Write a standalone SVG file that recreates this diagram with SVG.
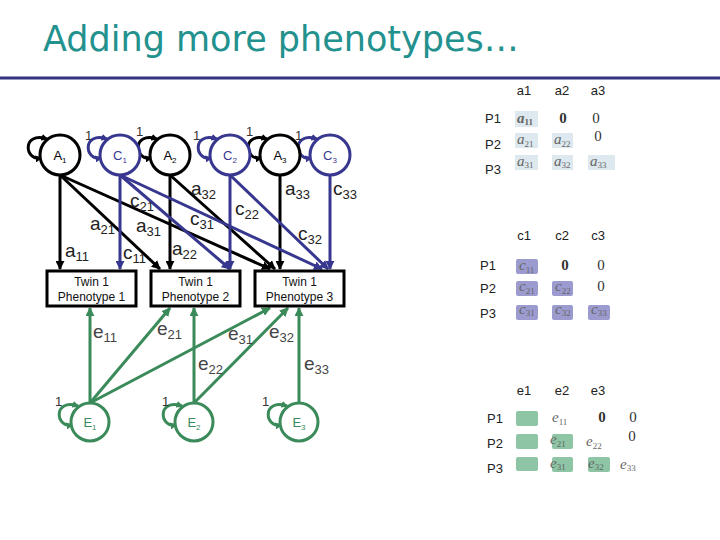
<svg xmlns="http://www.w3.org/2000/svg" width="720" height="540" viewBox="0 0 720 540">
<defs>
<style>
.title{font-family:"DejaVu Sans",Verdana,sans-serif;font-size:35px;fill:#23918d}
.k{stroke:#000;stroke-width:3;fill:none}
.b{stroke:#37378f;stroke-width:3;fill:none}
.g{stroke:#3a8a5a;stroke-width:3;fill:none}
.nk{stroke:#000;stroke-width:3;fill:#fff}
.nb{stroke:#37378f;stroke-width:3;fill:#fff}
.ng{stroke:#3a8a5a;stroke-width:3;fill:#fff}
.box{stroke:#000;stroke-width:3;fill:#fff}
.lbl{font-family:"Liberation Sans",Arial,sans-serif;font-size:19px;fill:#222}
.elbl{font-family:"Liberation Sans",Arial,sans-serif;font-size:19px;fill:#444}
.s{font-size:13px}
.one{font-family:"Liberation Sans",Arial,sans-serif;font-size:13px;fill:#333}
.nt{font-family:"Liberation Sans",Arial,sans-serif;font-size:13px;text-anchor:middle}
.ns{font-size:8px}
.bt{font-family:"Liberation Sans",Arial,sans-serif;font-size:12px;fill:#111;text-anchor:middle}
.mt{font-family:"Liberation Sans",Arial,sans-serif;font-size:13px;fill:#222}
.hd{font-family:"Liberation Sans",Arial,sans-serif;font-size:13px;fill:#222;text-anchor:middle}
.m{font-family:"Liberation Serif","Times New Roman",serif;font-style:italic;font-size:15px;fill:#666}
.ms{font-size:9px;font-style:normal}
.z{font-family:"Liberation Serif","Times New Roman",serif;font-size:15px;fill:#333;text-anchor:middle}
.ca{fill:#dde9ee}
.cc{fill:#9b9bd0}
.ce{fill:#8dc5a5}
</style>
<marker id="ak" viewBox="0 0 10 10" refX="9" refY="5" markerWidth="9" markerHeight="9" markerUnits="userSpaceOnUse" orient="auto-start-reverse"><path d="M0,0 L10,5 L0,10 z" fill="#000"/></marker>
<marker id="ab" viewBox="0 0 10 10" refX="9" refY="5" markerWidth="9" markerHeight="9" markerUnits="userSpaceOnUse" orient="auto-start-reverse"><path d="M0,0 L10,5 L0,10 z" fill="#37378f"/></marker>
<marker id="ag" viewBox="0 0 10 10" refX="9" refY="5" markerWidth="9" markerHeight="9" markerUnits="userSpaceOnUse" orient="auto-start-reverse"><path d="M0,0 L10,5 L0,10 z" fill="#3a8a5a"/></marker>
<marker id="lk" viewBox="0 0 10 10" refX="8" refY="5" markerWidth="7" markerHeight="7" markerUnits="userSpaceOnUse" orient="auto-start-reverse"><path d="M0,0 L10,5 L0,10 z" fill="#000"/></marker>
<marker id="lb" viewBox="0 0 10 10" refX="8" refY="5" markerWidth="7" markerHeight="7" markerUnits="userSpaceOnUse" orient="auto-start-reverse"><path d="M0,0 L10,5 L0,10 z" fill="#37378f"/></marker>
<marker id="lg" viewBox="0 0 10 10" refX="8" refY="5" markerWidth="7" markerHeight="7" markerUnits="userSpaceOnUse" orient="auto-start-reverse"><path d="M0,0 L10,5 L0,10 z" fill="#3a8a5a"/></marker>
</defs>
<rect width="720" height="540" fill="#fff"/>
<text class="title" x="43" y="51">Adding more phenotypes…</text>
<line x1="0" y1="78" x2="720" y2="78" stroke="#333380" stroke-width="3"/>

<g id="connectors">
<g marker-end="url(#ak)">
<path class="k" d="M60,175 L60,269"/>
<path class="k" d="M60,175 L160,269"/>
<path class="k" d="M60,175 L270,269"/>
<path class="k" d="M170,175 L170,269"/>
<path class="k" d="M170,175 L275,269"/>
<path class="k" d="M280,175 L280,269"/>
</g>
<g marker-end="url(#ab)">
<path class="b" d="M120,175 L120,269"/>
<path class="b" d="M120,175 L230,269"/>
<path class="b" d="M120,175 L322,269"/>
<path class="b" d="M230,175 L230,269"/>
<path class="b" d="M230,175 L328,269"/>
<path class="b" d="M330,175 L330,269"/>
</g>
<g marker-end="url(#ag)">
<path class="g" d="M90,403 L90,308"/>
<path class="g" d="M90,403 L170,308"/>
<path class="g" d="M90,403 L270,308"/>
<path class="g" d="M194,403 L194,308"/>
<path class="g" d="M194,403 L288,308"/>
<path class="g" d="M299,403 L299,308"/>
</g>
<g>
<path class="k" marker-start="url(#lk)" marker-end="url(#lk)" d="M41,158 C24,161 22,131 47,139"/>
<path class="b" marker-start="url(#lb)" marker-end="url(#lb)" d="M101,158 C84,161 82,131 107,139"/>
<path class="k" marker-start="url(#lk)" marker-end="url(#lk)" d="M151,158 C134,161 132,131 157,139"/>
<path class="b" marker-start="url(#lb)" marker-end="url(#lb)" d="M211,158 C194,161 192,131 217,139"/>
<path class="k" marker-start="url(#lk)" marker-end="url(#lk)" d="M261,158 C244,161 242,131 267,139"/>
<path class="b" marker-start="url(#lb)" marker-end="url(#lb)" d="M311,158 C294,161 292,131 317,139"/>
<path class="g" marker-start="url(#lg)" marker-end="url(#lg)" d="M72,425 C55,428 53,398 78,406"/>
<path class="g" marker-start="url(#lg)" marker-end="url(#lg)" d="M176,425 C159,428 157,398 182,406"/>
<path class="g" marker-start="url(#lg)" marker-end="url(#lg)" d="M281,425 C264,428 262,398 287,406"/>
</g>
<g>
<text class="lbl" x="65" y="257">a<tspan class="s" dy="4">11</tspan></text>
<text class="lbl" x="90" y="230">a<tspan class="s" dy="4">21</tspan></text>
<text class="lbl" x="136" y="232">a<tspan class="s" dy="4">31</tspan></text>
<text class="lbl" x="172" y="255">a<tspan class="s" dy="4">22</tspan></text>
<text class="lbl" x="191" y="195">a<tspan class="s" dy="4">32</tspan></text>
<text class="lbl" x="285" y="195">a<tspan class="s" dy="4">33</tspan></text>
<text class="lbl" x="123" y="259">c<tspan class="s" dy="4">11</tspan></text>
<text class="lbl" x="130" y="207">c<tspan class="s" dy="4">21</tspan></text>
<text class="lbl" x="190" y="225">c<tspan class="s" dy="4">31</tspan></text>
<text class="lbl" x="235" y="215">c<tspan class="s" dy="4">22</tspan></text>
<text class="lbl" x="298" y="240">c<tspan class="s" dy="4">32</tspan></text>
<text class="lbl" x="333" y="195">c<tspan class="s" dy="4">33</tspan></text>
<text class="elbl" x="93" y="338">e<tspan class="s" dy="4">11</tspan></text>
<text class="elbl" x="157" y="335">e<tspan class="s" dy="4">21</tspan></text>
<text class="elbl" x="228" y="340">e<tspan class="s" dy="4">31</tspan></text>
<text class="elbl" x="269" y="338">e<tspan class="s" dy="4">32</tspan></text>
<text class="elbl" x="198" y="370">e<tspan class="s" dy="4">22</tspan></text>
<text class="elbl" x="304" y="370">e<tspan class="s" dy="4">33</tspan></text>
<text class="one" x="85" y="140">1</text>
<text class="one" x="136" y="136">1</text>
<text class="one" x="193" y="140">1</text>
<text class="one" x="246" y="136">1</text>
<text class="one" x="295" y="140">1</text>
<text class="one" x="55" y="406" fill="#4a7a5a">1</text>
<text class="one" x="162" y="406" fill="#4a7a5a">1</text>
<text class="one" x="262" y="406" fill="#4a7a5a">1</text>
</g>
</g>

<g id="A1"><circle class="nk" cx="60" cy="155" r="20"/><text class="nt" x="60" y="160" fill="#000">A<tspan class="ns" dy="3">1</tspan></text></g>
<g id="C1"><circle class="nb" cx="120" cy="155" r="20"/><text class="nt" x="120" y="160" fill="#37378f">C<tspan class="ns" dy="3">1</tspan></text></g>
<g id="A2"><circle class="nk" cx="170" cy="155" r="20"/><text class="nt" x="170" y="160" fill="#000">A<tspan class="ns" dy="3">2</tspan></text></g>
<g id="C2"><circle class="nb" cx="230" cy="155" r="20"/><text class="nt" x="230" y="160" fill="#37378f">C<tspan class="ns" dy="3">2</tspan></text></g>
<g id="A3"><circle class="nk" cx="280" cy="155" r="20"/><text class="nt" x="280" y="160" fill="#000">A<tspan class="ns" dy="3">3</tspan></text></g>
<g id="C3"><circle class="nb" cx="330" cy="155" r="20"/><text class="nt" x="330" y="160" fill="#37378f">C<tspan class="ns" dy="3">3</tspan></text></g>

<g id="P1"><rect class="box" x="47" y="271" width="89" height="35"/><text class="bt" x="91.5" y="286">Twin 1</text><text class="bt" x="91.5" y="301">Phenotype 1</text></g>
<g id="P2"><rect class="box" x="151" y="271" width="89" height="35"/><text class="bt" x="195.5" y="286">Twin 1</text><text class="bt" x="195.5" y="301">Phenotype 2</text></g>
<g id="P3"><rect class="box" x="255" y="271" width="89" height="35"/><text class="bt" x="299.5" y="286">Twin 1</text><text class="bt" x="299.5" y="301">Phenotype 3</text></g>

<g id="E1"><circle class="ng" cx="90" cy="422" r="19"/><text class="nt" x="90" y="427" fill="#3a8a5a">E<tspan class="ns" dy="3">1</tspan></text></g>
<g id="E2"><circle class="ng" cx="194" cy="422" r="19"/><text class="nt" x="194" y="427" fill="#3a8a5a">E<tspan class="ns" dy="3">2</tspan></text></g>
<g id="E3"><circle class="ng" cx="299" cy="422" r="19"/><text class="nt" x="299" y="427" fill="#3a8a5a">E<tspan class="ns" dy="3">3</tspan></text></g>

<g id="matrixA">
<text class="hd" x="524" y="95">a1</text><text class="hd" x="562" y="95">a2</text><text class="hd" x="598" y="95">a3</text>
<text class="mt" x="485" y="123">P1</text><text class="mt" x="485" y="149">P2</text><text class="mt" x="485" y="174">P3</text>
<rect class="ca" x="515" y="111" width="23" height="16"/>
<rect class="ca" x="515" y="133" width="23" height="15"/><rect class="ca" x="552" y="133" width="21" height="15"/>
<rect class="ca" x="515" y="155" width="23" height="15"/><rect class="ca" x="552" y="155" width="21" height="15"/><rect class="ca" x="588" y="155" width="27" height="15"/>
<text class="m" x="517" y="123" fill="#222" font-weight="bold">a<tspan class="ms" dy="2">11</tspan></text>
<text class="z" x="563" y="123" font-weight="bold">0</text><text class="z" x="596" y="123">0</text>
<text class="m" x="517" y="144">a<tspan class="ms" dy="3">21</tspan></text>
<text class="m" x="554" y="144">a<tspan class="ms" dy="3">22</tspan></text>
<text class="z" x="598" y="141">0</text>
<text class="m" x="517" y="166">a<tspan class="ms" dy="2">31</tspan></text>
<text class="m" x="554" y="166">a<tspan class="ms" dy="2">32</tspan></text>
<text class="m" x="590" y="166">a<tspan class="ms" dy="2">33</tspan></text>
</g>

<g id="matrixC">
<text class="hd" x="524" y="240">c1</text><text class="hd" x="562" y="240">c2</text><text class="hd" x="598" y="240">c3</text>
<text class="mt" x="480" y="270">P1</text><text class="mt" x="480" y="293">P2</text><text class="mt" x="480" y="318">P3</text>
<rect class="cc" x="516" y="259" width="22" height="15" rx="2"/>
<rect class="cc" x="516" y="281" width="22" height="15" rx="2"/><rect class="cc" x="552" y="281" width="21" height="15" rx="2"/>
<rect class="cc" x="516" y="305" width="22" height="15" rx="2"/><rect class="cc" x="552" y="305" width="21" height="15" rx="2"/><rect class="cc" x="588" y="305" width="22" height="15" rx="2"/>
<text class="m" x="519" y="270" fill="#333">c<tspan class="ms" dy="3">11</tspan></text>
<text class="z" x="565" y="270" font-weight="bold">0</text><text class="z" x="601" y="270">0</text>
<text class="m" x="519" y="291" fill="#333">c<tspan class="ms" dy="3">21</tspan></text>
<text class="m" x="555" y="291" fill="#333">c<tspan class="ms" dy="3">22</tspan></text>
<text class="z" x="601" y="291">0</text>
<text class="m" x="519" y="314" fill="#333">c<tspan class="ms" dy="2">31</tspan></text>
<text class="m" x="555" y="314" fill="#333">c<tspan class="ms" dy="2">32</tspan></text>
<text class="m" x="591" y="314" fill="#333">c<tspan class="ms" dy="2">33</tspan></text>
</g>

<g id="matrixE">
<text class="hd" x="524" y="395">e1</text><text class="hd" x="562" y="395">e2</text><text class="hd" x="598" y="395">e3</text>
<text class="mt" x="487" y="423">P1</text><text class="mt" x="487" y="448">P2</text><text class="mt" x="487" y="473">P3</text>
<rect class="ce" x="516" y="411" width="22" height="15" rx="2"/>
<rect class="ce" x="516" y="434" width="22" height="15" rx="2"/>
<rect class="ce" x="516" y="457" width="22" height="14" rx="2"/>
<rect class="ce" x="552" y="434" width="21" height="15" rx="2"/>
<rect class="ce" x="552" y="457" width="21" height="15" rx="2"/>
<rect class="ce" x="588" y="457" width="22" height="15" rx="2"/>
<text class="m" x="552" y="422" fill="#333">e<tspan class="ms" dy="3">11</tspan></text>
<text class="z" x="602" y="422" font-weight="bold">0</text><text class="z" x="633" y="422">0</text>
<text class="m" x="550" y="444" fill="#2a5a3a">e<tspan class="ms" dy="3">21</tspan></text>
<text class="m" x="586" y="446" fill="#555">e<tspan class="ms" dy="3">22</tspan></text>
<text class="z" x="632" y="441">0</text>
<text class="m" x="550" y="468" fill="#2a4a3a">e<tspan class="ms" dy="2">31</tspan></text>
<text class="m" x="588" y="468" fill="#2a4a3a">e<tspan class="ms" dy="2">32</tspan></text>
<text class="m" x="620" y="469" fill="#555">e<tspan class="ms" dy="2">33</tspan></text>
</g>
</svg>
